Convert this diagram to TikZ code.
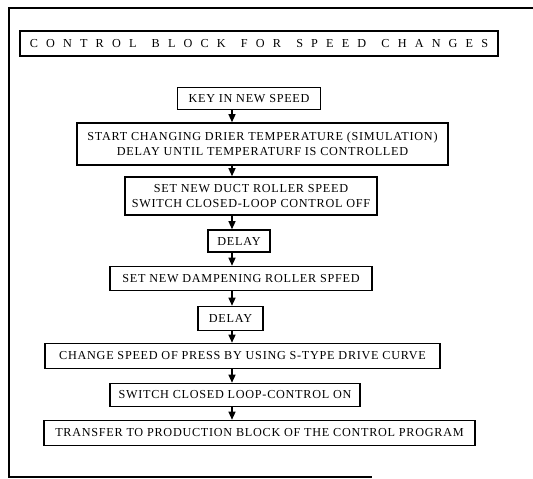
\documentclass[tikz,border=0pt]{standalone}
\usepackage{fontspec}
\setmainfont{Liberation Serif}
\newfontfamily\boxfont[LetterSpace=6]{Liberation Serif}
\newfontfamily\titlefont[LetterSpace=67]{Liberation Serif}
\usetikzlibrary{arrows.meta}
\newcommand{\wordgap}{\hspace{4pt}}

\begin{document}
\begin{tikzpicture}[x=1pt,y=-1pt,
  frameline/.style={line width=1.3pt},
  flowbox/.style={draw,line width=1.6pt,inner sep=0pt,align=center,
    font=\boxfont\fontsize{12.2}{15.5}\selectfont},
  titlebox/.style={draw,line width=1.6pt,inner sep=0pt,
    font=\titlefont\fontsize{12.2}{14}\selectfont},
  flowarrow/.style={line width=1.3pt,-{Triangle[width=7pt,length=8pt]}}]
\useasboundingbox (0,0) rectangle (533,479);

% outer frame, open on the right
\draw[frameline] (533,8) -- (9,8) -- (9,477) -- (372,477);

% heading
\node[titlebox,minimum width=478pt,minimum height=25pt] (title) at (259,43.5)
  {CONTROL\wordgap{} BLOCK\wordgap{} FOR\wordgap{} SPEED\wordgap{} CHANGES};

% flow chart steps
\node[flowbox,minimum width=143pt,minimum height=22pt] (key) at (249,98.5)
  {KEY IN NEW SPEED};
\node[flowbox,minimum width=371pt,minimum height=42pt] (start) at (262.5,144)
  {START CHANGING DRIER TEMPERATURE (SIMULATION)\\DELAY UNTIL TEMPERATURF IS CONTROLLED};
\node[flowbox,minimum width=252pt,minimum height=38pt] (duct) at (251,196)
  {SET NEW DUCT ROLLER SPEED\\SWITCH CLOSED-LOOP CONTROL OFF};
\node[flowbox,minimum width=62pt,minimum height=22pt] (delayA) at (239,241)
  {DELAY};
\node[flowbox,minimum width=262pt,minimum height=24pt] (damp) at (241,278.5)
  {SET NEW DAMPENING ROLLER SPFED};
\node[flowbox,minimum width=65pt,minimum height=24pt] (delayB) at (230.5,318.5)
  {DELAY};
\node[flowbox,minimum width=395pt,minimum height=25pt] (change) at (242.5,356)
  {CHANGE SPEED OF PRESS BY USING S-TYPE DRIVE CURVE};
\node[flowbox,minimum width=250pt,minimum height=23pt] (switch) at (235,395)
  {SWITCH CLOSED LOOP-CONTROL ON};
\node[flowbox,minimum width=431pt,minimum height=25pt] (transfer) at (259.5,433)
  {TRANSFER TO PRODUCTION BLOCK OF THE CONTROL PROGRAM};

% connectors run down one common vertical line
\coordinate (spine) at (232,0);
\foreach \a/\b in {key/start,start/duct,duct/delayA,delayA/damp,damp/delayB,
                   delayB/change,change/switch,switch/transfer}
  \draw[flowarrow] (\a.south -| spine) -- (\b.north -| spine);
\end{tikzpicture}
\end{document}
